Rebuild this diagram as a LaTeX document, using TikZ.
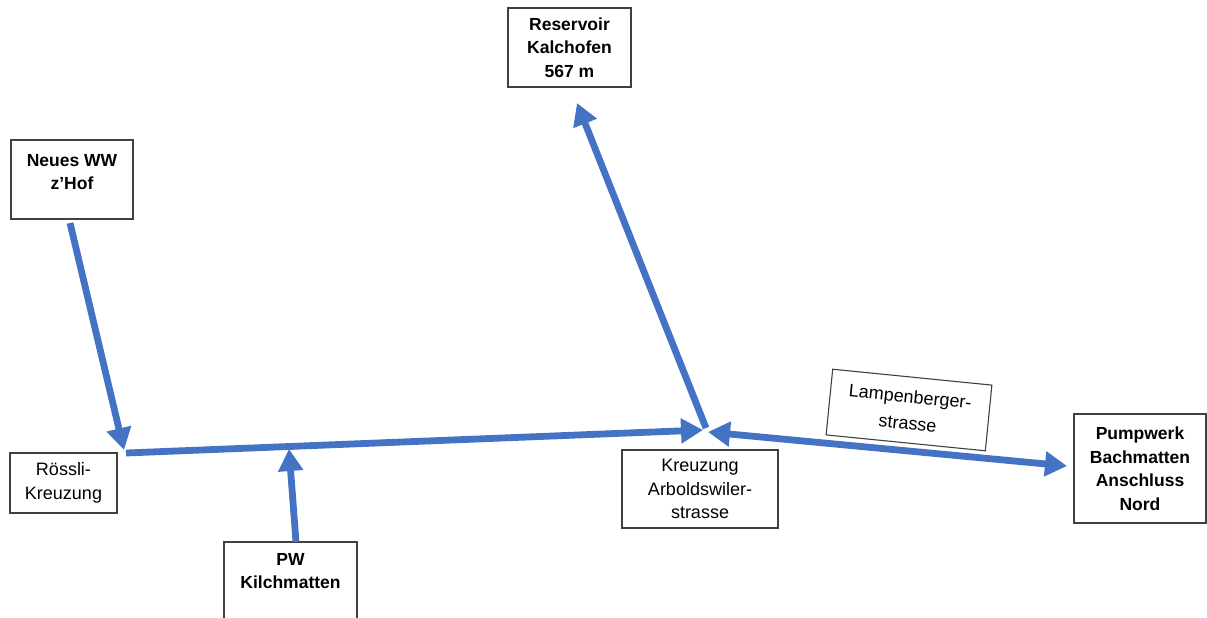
\documentclass[tikz,border=0pt]{standalone}
\usepackage{fontspec}
\setmainfont{Liberation Sans}
\usetikzlibrary{arrows.meta}
\definecolor{pipe}{RGB}{68,114,196}
\definecolor{frame}{RGB}{64,64,64}
\tikzset{
  box/.style={draw=frame, line width=1.1pt, fill=white, align=center, inner sep=0pt,
    font=\fontsize{18}{23.5}\selectfont},
  bbox/.style={box, font=\fontsize{17.5}{23.5}\selectfont\bfseries},
  pipeline/.style={draw=pipe, line width=6.8pt, -{Triangle[length=22pt,width=24pt]}},
  pipeboth/.style={draw=pipe, line width=6.8pt, {Triangle[length=22pt,width=24pt]}-{Triangle[length=22pt,width=24pt]}}
}
\begin{document}
\begin{tikzpicture}[x=1pt,y=-1pt]
\useasboundingbox (0,0) rectangle (1207,618);
\clip (0,0) rectangle (1207,618);
\fill[white] (0,0) rectangle (1207,618);

% boxes
\node[bbox, minimum width=122pt, minimum height=79pt] (nw) at (72,179.5) {Neues WW\\z'Hof\\[-8pt]~};
\node[bbox, minimum width=123pt, minimum height=79pt] (res) at (569.5,47.5) {Reservoir\\Kalchofen\\567 m};
\node[box, minimum width=107pt, minimum height=60pt] (rk) at (63.5,483) {Rössli-\\Kreuzung};
\node[bbox, minimum width=133pt, minimum height=105pt] (pw) at (290.5,594.5) {PW\\Kilchmatten\\~\\~};
\node[box, minimum width=156pt, minimum height=78pt] (kz) at (700,489) {Kreuzung\\Arboldswiler-\\strasse};
\node[bbox, minimum width=132pt, minimum height=109pt] (pu) at (1140,468.5) {Pumpwerk\\Bachmatten\\Anschluss\\Nord};
\node[box, minimum width=160pt, minimum height=66pt, rotate=-5.7,
      font=\fontsize{18}{27}\selectfont] (lb) at (909,410) {Lampenberger-\\strasse};

% junction points
\coordinate (nwout) at (70,223);
\coordinate (rktip) at (124,450);
\coordinate (rkstart) at (126,453);
\coordinate (jin) at (703,430);
\coordinate (jout) at (706,428);
\coordinate (restip) at (577,103);
\coordinate (pwout) at (296,542);
\coordinate (pwtip) at (289,449);
\coordinate (jright) at (708,432);
\coordinate (putip) at (1067,466);

% connectors
\draw[pipeline] (nwout) -- (rktip);
\draw[pipeline] (rkstart) -- (jin);
\draw[pipeline] (pwout) -- (pwtip);
\draw[pipeline] (jout) -- (restip);
\draw[pipeboth] (jright) -- (putip);
\end{tikzpicture}
\end{document}
